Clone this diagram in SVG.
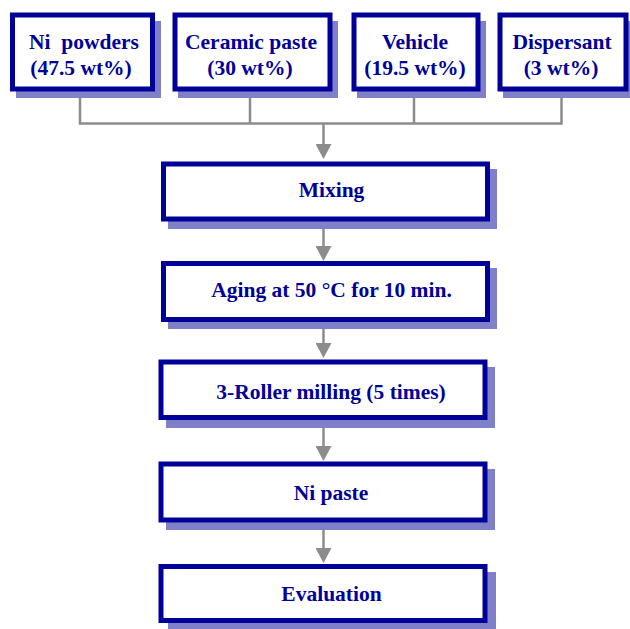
<svg xmlns="http://www.w3.org/2000/svg" width="630" height="629" viewBox="0 0 630 629">
<style>
.box{fill:#ffffff;stroke:#000099;stroke-width:5}
.sh{fill:#8080c8;stroke:none}
.t{font-family:"Liberation Serif","Times New Roman",serif;font-weight:bold;font-size:21.5px;fill:#000099;text-anchor:middle;white-space:pre}
.c{fill:none;stroke:#8c8c8c;stroke-width:2.5}
</style>
<defs>
<marker id="ah" markerUnits="userSpaceOnUse" markerWidth="16" markerHeight="16" refX="0" refY="8" orient="auto" viewBox="0 0 16 16">
<path d="M0,0 L15,8 L0,16 z" fill="#8c8c8c"/>
</marker>
</defs>
<rect width="630" height="629" fill="#ffffff"/>
<g id="connectors">
<path class="c" d="M80,92 V123.5 H561.5 V92 M250,92 V123.5 M414,92 V123.5"/>
<path class="c" d="M323.5,123.5 V144" marker-end="url(#ah)"/>
<path class="c" d="M323.5,222 V246" marker-end="url(#ah)"/>
<path class="c" d="M323.5,322 V343" marker-end="url(#ah)"/>
<path class="c" d="M323.5,420 V446" marker-end="url(#ah)"/>
<path class="c" d="M323.5,522.5 V548" marker-end="url(#ah)"/>
</g>
<g id="ni-powders">
<rect class="sh" x="16" y="21" width="145" height="77"/>
<rect class="box" x="12.5" y="15" width="140" height="74"/>
<text class="t" x="84" y="49">Ni  powders</text>
<text class="t" x="81" y="75">(47.5 wt%)</text>
</g>
<g id="ceramic-paste">
<rect class="sh" x="178" y="21" width="160" height="77"/>
<rect class="box" x="175" y="15" width="155" height="74"/>
<text class="t" x="251" y="49">Ceramic paste</text>
<text class="t" x="250" y="75">(30 wt%)</text>
</g>
<g id="vehicle">
<rect class="sh" x="357" y="21" width="129" height="77"/>
<rect class="box" x="354" y="15" width="124" height="74"/>
<text class="t" x="415" y="49">Vehicle</text>
<text class="t" x="415" y="75">(19.5 wt%)</text>
</g>
<g id="dispersant">
<rect class="sh" x="503" y="21" width="131" height="77"/>
<rect class="box" x="500" y="15" width="126" height="74"/>
<text class="t" x="562" y="49">Dispersant</text>
<text class="t" x="561" y="75">(3 wt%)</text>
</g>
<g id="mixing">
<rect class="sh" x="168" y="169" width="329" height="60"/>
<rect class="box" x="163.5" y="164" width="324" height="55"/>
<text class="t" x="331.5" y="197">Mixing</text>
</g>
<g id="aging">
<rect class="sh" x="168" y="268" width="329" height="61"/>
<rect class="box" x="163.5" y="263.5" width="324" height="56"/>
<text class="t" x="331.5" y="297">Aging at 50 °C for 10 min.</text>
</g>
<g id="roller-milling">
<rect class="sh" x="166" y="367" width="329" height="61"/>
<rect class="box" x="161" y="362" width="324" height="55.5"/>
<text class="t" x="331" y="399">3-Roller milling (5 times)</text>
</g>
<g id="ni-paste">
<rect class="sh" x="166" y="469" width="329" height="61"/>
<rect class="box" x="161" y="464" width="324" height="56"/>
<text class="t" x="331" y="500">Ni paste</text>
</g>
<g id="evaluation">
<rect class="sh" x="168" y="572" width="328" height="60"/>
<rect class="box" x="161" y="566.5" width="324" height="54"/>
<text class="t" x="331.5" y="601">Evaluation</text>
</g>
</svg>
